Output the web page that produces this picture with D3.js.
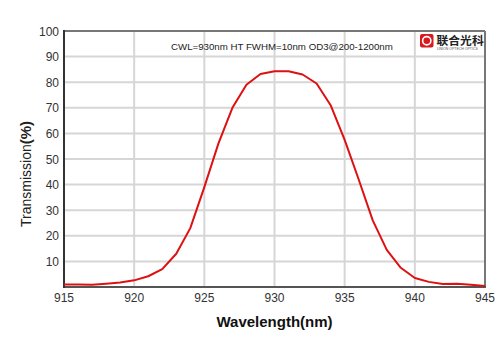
<!DOCTYPE html>
<html><head><meta charset="utf-8">
<script src="https://cdn.jsdelivr.net/npm/d3@7"></script>
<style>body{margin:0;background:#fff}svg{display:block}</style>
</head><body><svg id="c" width="500" height="353"></svg>
<script>
const wavelengths = [915,916,917,918,919,920,921,922,923,924,925,926,927,928,929,930,931,932,933,934,935,936,937,938,939,940,941,942,943,944,945];
const transmission = [1.0,1.0,0.9,1.3,1.8,2.6,4.2,7.0,13.0,23.0,39.0,56.0,70.0,79.0,83.2,84.3,84.3,83.0,79.5,71.0,57.5,42.0,26.0,14.5,7.5,3.5,2.0,1.2,1.3,0.9,0.4];
const xTicks = [915,920,925,930,935,940,945];
const yTicks = [10,20,30,40,50,60,70,80,90,100];
const annotation = "CWL=930nm HT FWHM=10nm OD3@200-1200nm";

const svg = d3.select("#c");
const L=64,R=485,T=31,B=287;
const x = d3.scaleLinear().domain([915,945]).range([L,R]);
const y = d3.scaleLinear().domain([0,100]).range([B,T]);
const font = "Arial, 'Liberation Sans', sans-serif";

// grid
svg.append("g").selectAll("line").data(xTicks.slice(1,-1)).join("line")
  .attr("x1",d=>x(d)).attr("x2",d=>x(d)).attr("y1",T).attr("y2",B)
  .attr("stroke","#d6d6d6").attr("stroke-width",2);
svg.append("g").selectAll("line").data(yTicks.slice(0,-1)).join("line")
  .attr("x1",L).attr("x2",R).attr("y1",d=>y(d)).attr("y2",d=>y(d))
  .attr("stroke","#d6d6d6").attr("stroke-width",2);

// frame
svg.append("line").attr("x1",L).attr("x2",R).attr("y1",T).attr("y2",T).attr("stroke","#777").attr("stroke-width",2);
svg.append("line").attr("x1",R).attr("x2",R).attr("y1",T).attr("y2",B).attr("stroke","#777").attr("stroke-width",2);
svg.append("line").attr("x1",L).attr("x2",R+1).attr("y1",B).attr("y2",B).attr("stroke","#555").attr("stroke-width",2);
svg.append("line").attr("x1",L).attr("x2",L).attr("y1",T-1).attr("y2",B+1).attr("stroke","#333").attr("stroke-width",2);

// tick labels
svg.append("g").selectAll("text").data(yTicks).join("text")
  .attr("x",L-5).attr("y",d=>y(d)+4.5).attr("text-anchor","end")
  .attr("font-family",font).attr("font-size",12).attr("fill","#333").text(d=>d);
svg.append("g").selectAll("text").data(xTicks).join("text")
  .attr("x",d=>x(d)).attr("y",B+15).attr("text-anchor","middle")
  .attr("font-family",font).attr("font-size",12).attr("fill","#333").text(d=>d);

// axis titles
const yl = svg.append("text").attr("transform","translate(31,227) rotate(-90)")
  .attr("text-anchor","start").attr("font-family",font).attr("font-size",14).attr("fill","#222");
yl.append("tspan").text("Transmission");
yl.append("tspan").attr("font-weight","bold").attr("font-size",15).text("(%)");
svg.append("text").attr("x",(L+R)/2).attr("y",327).attr("text-anchor","middle")
  .attr("font-family",font).attr("font-size",15).attr("font-weight","bold").attr("fill","#111").text("Wavelength(nm)");

// annotation
svg.append("text").attr("x",171).attr("y",50).attr("font-family",font).attr("font-size",9.7).attr("fill","#222").text(annotation);

// logo
const lg = svg.append("g");
lg.append("rect").attr("x",420).attr("y",34).attr("width",13.5).attr("height",13.5).attr("rx",2).attr("fill","#d71920");
lg.append("circle").attr("cx",426.75).attr("cy",40.75).attr("r",4.1).attr("fill","none").attr("stroke","#fff").attr("stroke-width",1.6);
lg.append("text").attr("x",436.5).attr("y",44.5).attr("font-family","'Noto Sans CJK SC', sans-serif").attr("font-size",11.8).attr("font-weight","bold").attr("fill","#222").text("联合光科");
lg.append("text").attr("x",437).attr("y",49.5).attr("font-family",font).attr("font-size",3.5).attr("fill","#555").text("UNION OPTECH OPTICS");

// curve
const line = d3.line().x((d,i)=>x(wavelengths[i])).y(d=>y(d));
svg.append("path").datum(transmission).attr("d",line).attr("fill","none")
  .attr("stroke","#dd1111").attr("stroke-width",2).attr("stroke-linejoin","round");
</script></body></html>
